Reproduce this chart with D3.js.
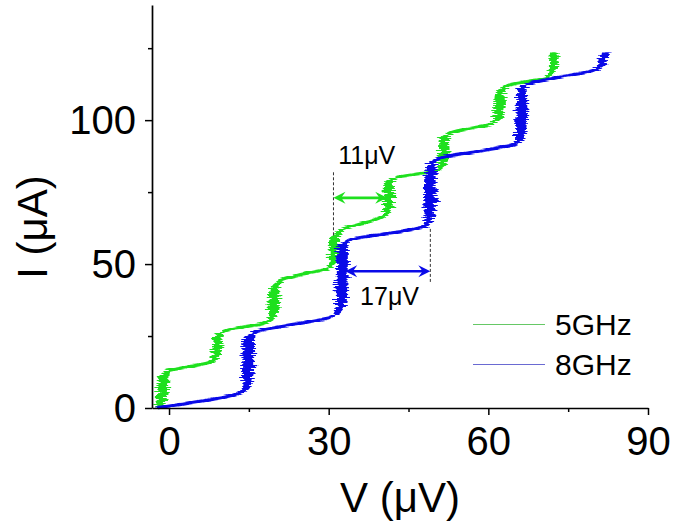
<!DOCTYPE html>
<html>
<head>
<meta charset="utf-8">
<script src="https://cdn.jsdelivr.net/npm/d3@7"></script>
<style>
  body { margin: 0; background: #fff; }
  svg { display: block; }
  text { font-family: "Liberation Sans", Arial, sans-serif; fill: #000; }
</style>
</head>
<body>
<svg id="chart" width="673" height="523"></svg>
<script>
/******************************************************************************/
/** data read off the picture : V in uV, I in uA, noise = half width of jitter (uV) */

var green_V     = [-1.6, -1.2, -1.0, -0.3, 1.5, 5.0, 7.5, 8.6, 9.0, 9.3, 10.2, 14.0, 18.0, 19.4, 19.7, 20.0, 21.0, 26.0, 29.8, 30.8, 31.0, 31.2, 32.2, 37.0, 40.2, 41.2, 41.3, 41.5, 42.6, 47.0, 50.5, 51.4, 51.7, 51.9, 53.1, 58.0, 61.0, 61.9, 62.1, 62.3, 63.5, 67.0, 71.0, 72.0, 72.2, 72.3];
var green_I     = [0, 6, 11, 12.8, 13.6, 14.8, 15.8, 17, 21, 25, 26.6, 28.2, 29.6, 31.5, 37, 42.5, 44.3, 46.8, 48.6, 51, 55, 60, 61.9, 64.5, 66.6, 69, 74, 78.5, 80, 81.4, 82.8, 85, 89, 94, 95.7, 97.6, 99.0, 101, 106, 110, 111.9, 113.3, 114.8, 117, 120, 123.5];
var green_noise = [0.8, 1.0, 0.9, 0.4, 0.25, 0.25, 0.3, 0.7, 1.0, 0.8, 0.3, 0.25, 0.3, 0.7, 1.0, 0.8, 0.3, 0.25, 0.3, 0.8, 1.0, 0.8, 0.3, 0.25, 0.3, 0.8, 1.0, 0.8, 0.3, 0.25, 0.3, 0.8, 1.0, 0.8, 0.3, 0.25, 0.3, 0.8, 1.0, 0.8, 0.3, 0.25, 0.3, 0.7, 0.8, 0.7];

var blue_V     = [-2.3, 2.0, 8.0, 12.5, 14.3, 14.8, 14.9, 15.0, 16.0, 21.0, 27.0, 31.0, 32.2, 32.4, 32.5, 32.7, 34.0, 40.0, 46.0, 48.3, 49.0, 49.0, 49.1, 49.5, 51.0, 57.0, 63.0, 65.4, 66.0, 66.2, 66.3, 66.6, 68.0, 74.0, 79.5, 81.3, 81.6, 81.7];
var blue_I     = [0, 1.2, 3.0, 4.8, 6.5, 12, 18, 24, 26.2, 28.3, 30.2, 32.0, 35, 42, 50, 56, 58.3, 60.3, 62.2, 63.5, 68, 75, 82, 85.5, 86.9, 88.8, 90.8, 92.0, 96, 102, 108, 111.8, 112.9, 115.2, 117.2, 119, 121, 123.5];
var blue_noise = [0.15, 0.25, 0.25, 0.3, 0.7, 1.1, 1.1, 1.0, 0.3, 0.25, 0.25, 0.4, 0.9, 1.1, 1.1, 1.0, 0.3, 0.25, 0.25, 0.6, 1.0, 1.1, 1.0, 0.7, 0.3, 0.25, 0.25, 0.6, 1.0, 1.1, 1.0, 0.7, 0.3, 0.25, 0.3, 0.7, 0.9, 0.7];

var series_labels = ["5GHz", "8GHz"];

var x_ticks = [0, 30, 60, 90];
var x_minor = [15, 45, 75];
var y_ticks = [0, 50, 100];
var y_minor = [25, 75, 125];

// step width annotations
var arrow_V0     = [30.9, 33.1];
var arrow_V1     = [41.0, 49.1];
var arrow_I      = [73.0, 47.5];
var arrow_labels = ["11μV", "17μV"];
var label_V      = [31.8, 35.9];
var label_I      = [84.8, 35.9];
var dash_V       = [30.9, 49.1];
var dash_I0      = [60.0, 43.8];
var dash_I1      = [82.0, 62.8];

var green = "#1ee01e";
var blue  = "#0a0ae8";

/******************************************************************************/
/** setup */

var svg = d3.select("#chart");

var x = d3.scaleLinear().domain([-3.2, 90]).range([152, 648]);
var y = d3.scaleLinear().domain([0, 140]).range([408, 5]);

// horizontal-only jitter filter, to give the traces their noisy look
var defs = svg.append("defs");
function addJitter(id, seed){
  var f = defs.append("filter").attr("id", id)
    .attr("x", "-10%").attr("y", "-10%").attr("width", "120%").attr("height", "120%")
    .attr("color-interpolation-filters", "sRGB");
  f.append("feTurbulence").attr("type", "fractalNoise").attr("baseFrequency", "0.04 1.3")
    .attr("numOctaves", 2).attr("seed", seed).attr("result", "t");
  f.append("feColorMatrix").attr("in", "t").attr("type", "matrix")
    .attr("values", "1 0 0 0 0  0 0 0 0 0.5  0 0 0 0 0  0 0 0 0 1").attr("result", "m");
  f.append("feDisplacementMap").attr("in", "SourceGraphic").attr("in2", "m")
    .attr("scale", 13).attr("xChannelSelector", "R").attr("yChannelSelector", "G");
}
addJitter("jag1", 3);
addJitter("jag2", 11);

/******************************************************************************/
/** traces */

function drawSeries(V, I, N, color, filterId){
  var pts = V.map(function(v, k){ return { v: v, i: I[k], n: N[k] }; });
  var g = svg.append("g").attr("filter", "url(#" + filterId + ")");

  var band = d3.area().curve(d3.curveCatmullRom)
    .y(function(d){ return y(d.i); })
    .x0(function(d){ return x(d.v - d.n); })
    .x1(function(d){ return x(d.v + d.n); });
  var line = d3.line().curve(d3.curveCatmullRom)
    .x(function(d){ return x(d.v); })
    .y(function(d){ return y(d.i); });

  g.append("path").attr("d", band(pts)).attr("fill", color);
  g.append("path").attr("d", line(pts)).attr("fill", "none")
    .attr("stroke", color).attr("stroke-width", 3.2);
}

drawSeries(green_V, green_I, green_noise, green, "jag1");
drawSeries(blue_V, blue_I, blue_noise, blue, "jag2");

/******************************************************************************/
/** annotations */

var arrowColors = [green, blue];
for(var k = 0; k < arrow_V0.length; k++){
  svg.append("line")
    .attr("x1", x(dash_V[k])).attr("x2", x(dash_V[k]))
    .attr("y1", y(dash_I0[k])).attr("y2", y(dash_I1[k]))
    .attr("stroke", "#333").attr("stroke-width", 1).attr("stroke-dasharray", "3,2");

  var xa = x(arrow_V0[k]), xb = x(arrow_V1[k]), ya = y(arrow_I[k]);
  var L = 12, h = 6;
  svg.append("line").attr("x1", xa + 6).attr("x2", xb - 6).attr("y1", ya).attr("y2", ya)
    .attr("stroke", arrowColors[k]).attr("stroke-width", 2.6);
  svg.append("path")
    .attr("d", "M" + xa + "," + ya + "L" + (xa + L) + "," + (ya - h) + "L" + (xa + L * 0.65) + "," + ya + "L" + (xa + L) + "," + (ya + h) + "Z")
    .attr("fill", arrowColors[k]);
  svg.append("path")
    .attr("d", "M" + xb + "," + ya + "L" + (xb - L) + "," + (ya - h) + "L" + (xb - L * 0.65) + "," + ya + "L" + (xb - L) + "," + (ya + h) + "Z")
    .attr("fill", arrowColors[k]);

  svg.append("text").attr("x", x(label_V[k])).attr("y", y(label_I[k]))
    .attr("font-size", 25).text(arrow_labels[k]);
}

/******************************************************************************/
/** axes */

var xAxis = svg.append("g").attr("transform", "translate(0,408)")
  .call(d3.axisBottom(x).tickValues(x_ticks).tickSize(7).tickSizeOuter(0).tickFormat(d3.format("d")));
svg.append("g").attr("transform", "translate(0,408)")
  .call(d3.axisBottom(x).tickValues(x_minor).tickSize(4).tickSizeOuter(0).tickFormat(""))
  .select(".domain").remove();

var yAxis = svg.append("g").attr("transform", "translate(152,0)")
  .call(d3.axisLeft(y).tickValues(y_ticks).tickSize(7).tickSizeOuter(0).tickFormat(d3.format("d")));
svg.append("g").attr("transform", "translate(152,0)")
  .call(d3.axisLeft(y).tickValues(y_minor).tickSize(4).tickSizeOuter(0).tickFormat(""))
  .select(".domain").remove();

svg.selectAll(".domain").attr("stroke", "#000").attr("stroke-width", 1.7);
svg.selectAll(".tick line").attr("stroke", "#000").attr("stroke-width", 1.5);

xAxis.selectAll("text").attr("y", 47).attr("dy", 0)
  .attr("font-size", 40).attr("font-family", "Liberation Sans, Arial, sans-serif").attr("fill", "#000");
yAxis.selectAll("text").attr("x", -16).attr("dy", "0.33em")
  .attr("font-size", 40).attr("font-family", "Liberation Sans, Arial, sans-serif").attr("fill", "#000");

svg.append("text").attr("x", 400).attr("y", 512).attr("text-anchor", "middle")
  .attr("font-size", 42).text("V (μV)");
svg.append("text").attr("transform", "translate(47,227) rotate(-90)").attr("text-anchor", "middle")
  .attr("font-size", 42).text("I (μA)");

/******************************************************************************/
/** legend */

var legendColors = ["#66c866", "#6a6ad2"];
for(var k = 0; k < series_labels.length; k++){
  var ly = 324 + k * 40;
  svg.append("rect").attr("x", 473).attr("y", ly).attr("width", 72).attr("height", 1)
    .attr("fill", legendColors[k]).attr("shape-rendering", "crispEdges");
  svg.append("text").attr("x", 555).attr("y", ly + 10.5).attr("font-size", 30).text(series_labels[k]);
}
</script>
</body>
</html>
